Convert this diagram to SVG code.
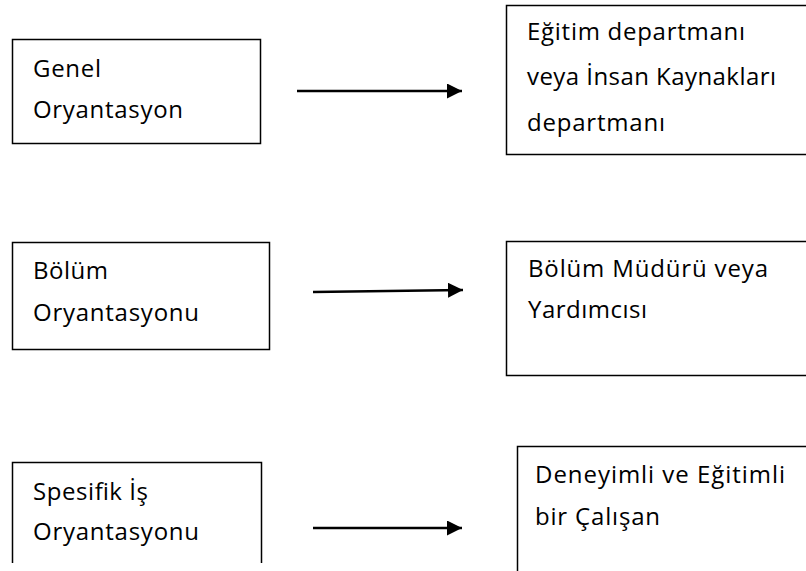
<svg xmlns="http://www.w3.org/2000/svg" width="806" height="571" viewBox="0 0 806 571">
<style>
.box{fill:none;stroke:#000;stroke-width:1.5}
.t{font-family:"Open Sans","Noto Sans","Liberation Sans",sans-serif;font-size:24px;fill:#000}
.c{stroke:#000;stroke-width:2.5;fill:none}
</style>
<defs>
<marker id="ah" markerUnits="userSpaceOnUse" markerWidth="16" markerHeight="16" refX="15" refY="7.5" orient="auto">
<path d="M0,0 L15,7.5 L0,15 Z" fill="#000"/>
</marker>
</defs>
<rect width="806" height="571" fill="#fff"/>
<g id="n1">
<rect class="box" x="12.5" y="39.5" width="248" height="104"/>
<text class="t" x="33" y="77" textLength="68" lengthAdjust="spacing">Genel</text>
<text class="t" x="33" y="118" textLength="150" lengthAdjust="spacing">Oryantasyon</text>
</g>
<g id="n2">
<path class="box" d="M806,5.5 H506.5 V154.5 H806"/>
<text class="t" x="527" y="39.5" textLength="218" lengthAdjust="spacing">Eğitim departmanı</text>
<text class="t" x="527" y="85" textLength="249" lengthAdjust="spacing">veya İnsan Kaynakları</text>
<text class="t" x="527" y="130.5" textLength="138" lengthAdjust="spacing">departmanı</text>
</g>
<g id="n3">
<rect class="box" x="12.5" y="242.5" width="257" height="107"/>
<text class="t" x="33" y="279" textLength="75" lengthAdjust="spacing">Bölüm</text>
<text class="t" x="33" y="321" textLength="166" lengthAdjust="spacing">Oryantasyonu</text>
</g>
<g id="n4">
<path class="box" d="M806,241.5 H506.5 V375.5 H806"/>
<text class="t" x="528" y="277" textLength="240" lengthAdjust="spacing">Bölüm Müdürü veya</text>
<text class="t" x="528" y="318" textLength="119" lengthAdjust="spacing">Yardımcısı</text>
</g>
<g id="n5">
<path class="box" d="M12.5,563 V462.5 H261.5 V563"/>
<text class="t" x="33" y="500" textLength="115" lengthAdjust="spacing">Spesifik İş</text>
<text class="t" x="33" y="540" textLength="166" lengthAdjust="spacing">Oryantasyonu</text>
</g>
<g id="n6">
<path class="box" d="M517.5,571 V446.5 H806"/>
<text class="t" x="535" y="483" textLength="250" lengthAdjust="spacing">Deneyimli ve Eğitimli</text>
<text class="t" x="535" y="525" textLength="125" lengthAdjust="spacing">bir Çalışan</text>
</g>
<g id="connectors">
<line class="c" x1="297" y1="91" x2="462" y2="91" marker-end="url(#ah)"/>
<line class="c" x1="313" y1="292" x2="463" y2="290" marker-end="url(#ah)"/>
<line class="c" x1="313" y1="528" x2="462" y2="528" marker-end="url(#ah)"/>
</g>
</svg>
